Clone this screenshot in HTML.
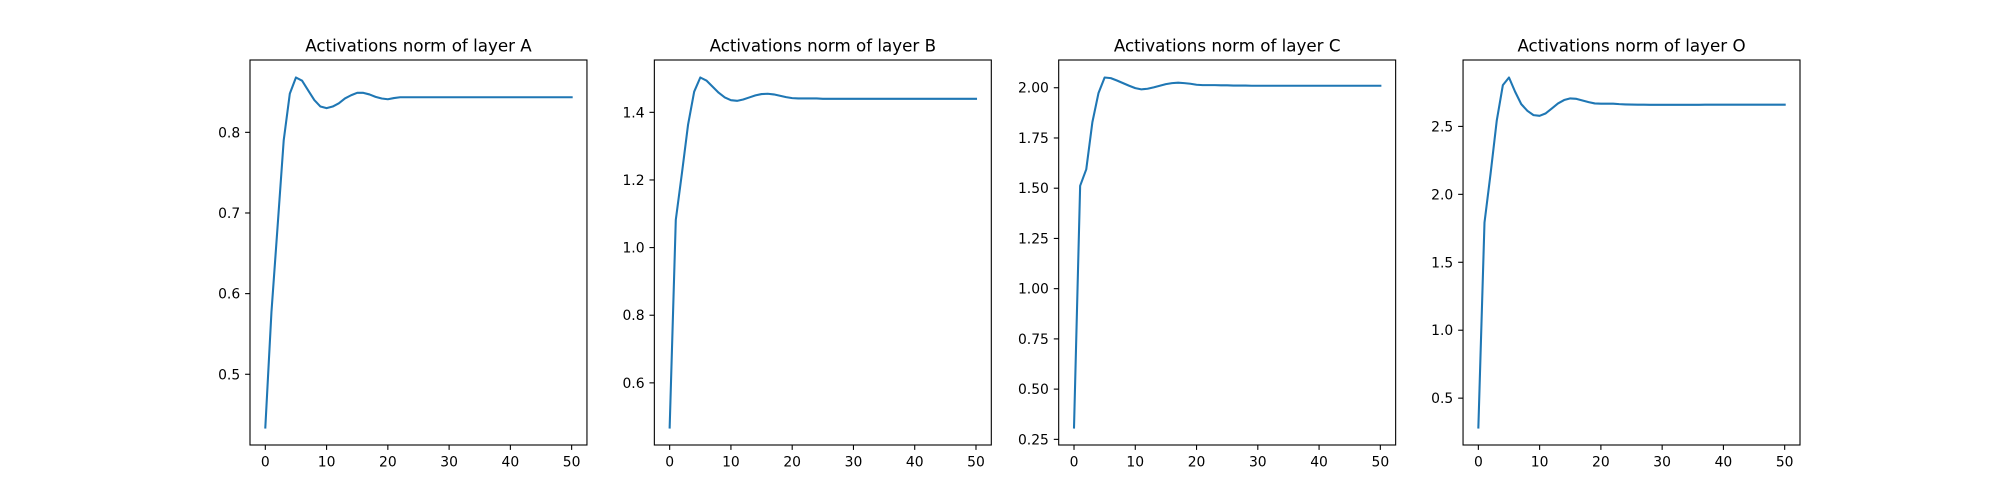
<!DOCTYPE html>
<html><head><meta charset="utf-8"><style>
html,body{margin:0;padding:0;background:#fff;}
svg{display:block;font-family:"DejaVu Sans","Liberation Sans",sans-serif;}
</style></head><body>
<svg id="fig" width="2000" height="500" viewBox="0 0 2000 500"></svg>
<script>
const steps = [0,1,2,3,4,5,6,7,8,9,10,11,12,13,14,15,16,17,18,19,20,21,22,23,24,25,26,27,28,29,30,31,32,33,34,35,36,37,38,39,40,41,42,43,44,45,46,47,48,49,50];
const layerNames = ["A","B","C","O"];
const normA = [0.434,0.577,0.683,0.790,0.848,0.868,0.864,0.852,0.840,0.832,0.830,0.832,0.836,0.842,0.846,0.849,0.849,0.847,0.844,0.842,0.841,0.8425,0.8435,0.8435,0.8435,0.8435,0.8435,0.8435,0.8435,0.8435,0.8435,0.8435,0.8435,0.8435,0.8435,0.8435,0.8435,0.8435,0.8435,0.8435,0.8435,0.8435,0.8435,0.8435,0.8435,0.8435,0.8435,0.8435,0.8435,0.8435,0.8435];
const normB = [0.468,1.082,1.220,1.363,1.461,1.503,1.494,1.476,1.458,1.444,1.436,1.434,1.438,1.444,1.450,1.454,1.455,1.453,1.449,1.445,1.442,1.441,1.441,1.441,1.441,1.440,1.440,1.440,1.440,1.440,1.440,1.440,1.440,1.440,1.440,1.440,1.440,1.440,1.440,1.440,1.440,1.440,1.440,1.440,1.440,1.440,1.440,1.440,1.440,1.440,1.440];
const normC = [0.309,1.512,1.594,1.829,1.974,2.051,2.048,2.036,2.023,2.010,1.998,1.992,1.995,2.002,2.010,2.018,2.023,2.025,2.023,2.020,2.015,2.013,2.013,2.013,2.012,2.012,2.011,2.011,2.011,2.010,2.010,2.010,2.010,2.010,2.010,2.010,2.010,2.010,2.010,2.010,2.010,2.010,2.010,2.010,2.010,2.010,2.010,2.010,2.010,2.010,2.010];
const normO = [0.284,1.792,2.154,2.542,2.804,2.860,2.755,2.664,2.615,2.583,2.578,2.596,2.632,2.669,2.694,2.706,2.703,2.691,2.679,2.669,2.667,2.667,2.667,2.664,2.662,2.661,2.660,2.660,2.659,2.659,2.659,2.659,2.659,2.659,2.659,2.659,2.659,2.660,2.660,2.660,2.660,2.660,2.660,2.660,2.660,2.660,2.660,2.660,2.660,2.660,2.660];
const xTicks = [0,10,20,30,40,50];
const yTicksA = ["0.5","0.6","0.7","0.8"];
const yTicksB = ["0.6","0.8","1.0","1.2","1.4"];
const yTicksC = ["0.25","0.50","0.75","1.00","1.25","1.50","1.75","2.00"];
const yTicksO = ["0.5","1.0","1.5","2.0","2.5"];

const NS="http://www.w3.org/2000/svg";
const fig=document.getElementById('fig');
function mk(tag,attrs,parent){const e=document.createElementNS(NS,tag);for(const k in attrs)e.setAttribute(k,attrs[k]);parent.appendChild(e);return e;}
const series=[normA,normB,normC,normO];
const yticks=[yTicksA,yTicksB,yTicksC,yTicksO];
const L=250,R=1800,T=60,B=445;
const W=(R-L)/(4+3*0.2);
for(let i=0;i<4;i++){
  const x0=L+i*W*1.2, x1=x0+W;
  const g=mk('g',{},fig);
  
  
  const ys=series[i];
  let mn=Math.min(...ys),mx=Math.max(...ys);const pad=(mx-mn)*0.05;mn-=pad;mx+=pad;
  const xmin=steps[0]-(steps[steps.length-1]-steps[0])*0.05,xmax=steps[steps.length-1]+(steps[steps.length-1]-steps[0])*0.05;
  const sx=v=>x0+(v-xmin)/(xmax-xmin)*W;
  const sy=v=>B-(v-mn)/(mx-mn)*(B-T);
  const d=steps.map((s,j)=>(j?'L':'M')+sx(s).toFixed(2)+','+sy(ys[j]).toFixed(2)).join('');
  const p=mk('path',{d:d,fill:'none',stroke:'#1f77b4','stroke-width':2.08,'stroke-linejoin':'round','stroke-linecap':'square'},g);
  
  
  const fr=mk('rect',{x:x0,y:T,width:W,height:B-T,fill:'none',stroke:'#000','stroke-width':1.1},g);
  
  
  xTicks.forEach(t=>{
    const X=sx(t);
    mk('line',{x1:X,y1:B,x2:X,y2:B+4.9,stroke:'#000','stroke-width':1.1},g);
    const tx=mk('text',{x:X,y:B+21.5,'font-size':13.9,'text-anchor':'middle',fill:'#000'},g);
    tx.textContent=t;
    
    
  });
  yticks[i].forEach(t=>{
    const Y=sy(parseFloat(t));
    mk('line',{x1:x0-4.9,y1:Y,x2:x0,y2:Y,stroke:'#000','stroke-width':1.1},g);
    const tx=mk('text',{x:x0-9.8,y:Y+5,'font-size':13.9,'text-anchor':'end',fill:'#000'},g);
    tx.textContent=t;
    
    
  });
  const ti=mk('text',{x:x0+W/2,y:T-8.5,'font-size':16.7,'text-anchor':'middle',fill:'#000'},g);
  ti.textContent='Activations norm of layer '+layerNames[i];
  
  
}
</script>
</body></html>
